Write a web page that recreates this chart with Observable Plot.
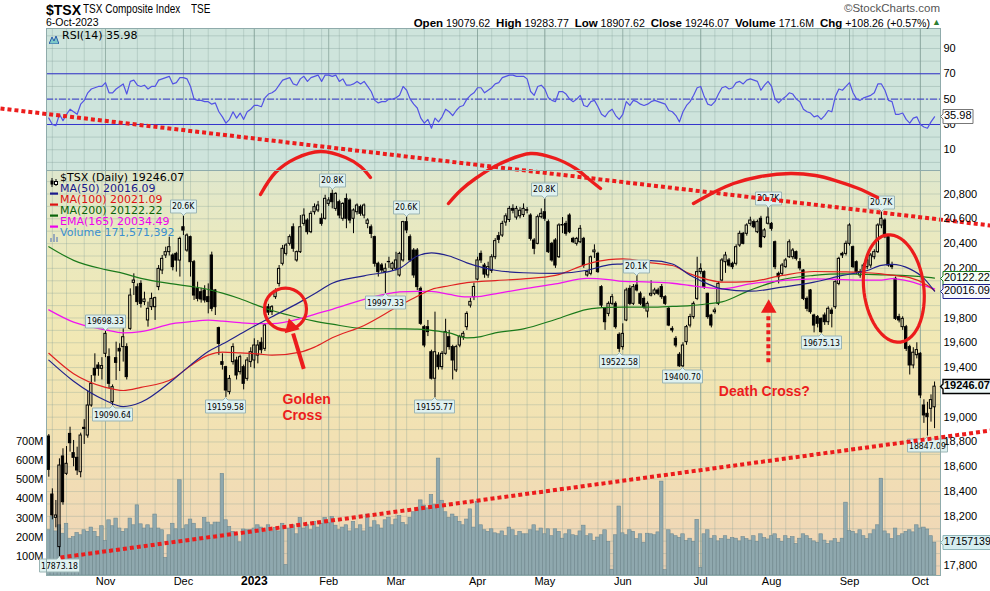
<!DOCTYPE html>
<html><head><meta charset="utf-8">
<script src="https://cdn.jsdelivr.net/npm/d3@7"></script>
<script src="https://cdn.jsdelivr.net/npm/@observablehq/plot@0.6"></script>
<style>
html,body{margin:0;padding:0;background:#fff;}
#chart{position:relative;width:990px;height:591px;overflow:hidden;font-family:"Liberation Sans",Arial,sans-serif;}
#chart svg{position:absolute;left:0;top:0;}
.bg{position:absolute;}
.t{position:absolute;white-space:nowrap;}
</style></head><body>
<div id="chart"></div>
<script>
// ---------------- DATA ----------------
// daily candles [open, high, low, close], trading-day index 0 = 7-Oct-2022 ... 250 = 6-Oct-2023
const ohlc = [
[18844,18860,18516,18575],[18376,18422,18172,18207],[18188,18328,18107,18207],[17952,18664,17873.18,18610],[18683,18745,18290,18314],
[18543,18763,18530,18624],[18865,18919,18718,18790],[18710,18812,18600,18672],[18672,18758,18530,18570],[18556,18871,18511,18852],
[18914,18980,18780,18905],[18852,19210,18830,19094],[19094,19336,19080,19269],[19390,19511,19282,19336],[19417,19440,19330,19390],
[19390,19480,19300,19412],[19511,19698.33,19480,19672],[19484,19551,19230,19269],[19121,19260,19090.64,19242],[19476,19605,19296,19438],
[19551,19592,19368,19530],[19565,19726,19444,19645],[19565,19592,19300,19323],[19712,20035,19700,19981],[20083,20156,19981,20102],
[20048,20075,19900,19928],[20075,20100,19880,19914],[19928,20008,19900,19949],[19780,19928,19726,19874],[19887,20000,19860,19954],
[19887,19968,19780,19960],[20049,20223,20020,20196],[20183,20304,20150,20277],[20304,20371,20280,20331],[20331,20452,20300,20371],
[20304,20317,20180,20210],[20317,20330,20170,20263],[20263,20452,20130,20438],[20532,20626,20465,20505],[20344,20478,20330,20465],
[20452,20460,20130,20250],[20250,20264,19941,19981],[20035,20089,19930,19954],[20008,20040,19920,19949],[20022,20060,19920,19941],
[19968,20075,19833,19928],[20304,20331,19850,19874],[20022,20030,19820,19887],[19718,19726,19498,19591],[19444,19511,19380,19422],
[19403,19410,19159.58,19215],[19202,19336,19180,19309],[19444,19592,19420,19565],[19457,19484,19300,19336],[19363,19500,19340,19484],
[19403,19420,19220,19269],[19309,19480,19290,19457],[19444,19560,19400,19524],[19457,19632,19390,19578],[19497,19618,19430,19578],
[19600,19640,19510,19540],[19551,19753,19530,19740],[19887,19910,19820,19843],[19847,19900,19820,19887],[19968,20035,19950,20008],
[20075,20223,20050,20196],[20237,20385,20220,20358],[20317,20400,20300,20385],[20398,20470,20380,20452],[20532,20559,20330,20358],
[20264,20340,20250,20331],[20331,20626,20320,20532],[20559,20680,20540,20626],[20586,20600,20470,20492],[20492,20660,20480,20640],
[20653,20720,20630,20694],[20667,20740,20650,20707],[20600,20640,20540,20559],[20600,20790,20590,20761],[20720,20770,20700,20748],
[20801,20833,20680,20734],[20680,20810,20660,20801],[20734,20750,20600,20626],[20600,20730,20580,20720],[20760,20800,20520,20600],
[20747,20760,20560,20586],[20600,20680,20480,20667],[20653,20720,20630,20707],[20694,20710,20620,20640],[20626,20720,20600,20707],
[20559,20600,20520,20586],[20532,20550,20440,20478],[20452,20460,20210,20237],[20237,20250,20130,20170],[20224,20240,20160,20183],
[20170,20237,19997.33,20197],[20250,20290,20200,20252],[20197,20250,20180,20237],[20197,20330,20180,20264],[20143,20330,20130,20317],
[20264,20580,20250,20573],[20573,20620,20480,20506],[20452,20470,20250,20264],[20344,20360,20120,20143],[20344,20360,20020,20049],
[20035,20050,19740,19753],[19726,19740,19560,19578],[19726,19780,19650,19686],[19524,19540,19300,19310],[19310,19847,19155.77,19524],
[19497,19520,19380,19404],[19404,19530,19380,19511],[19511,19790,19500,19686],[19645,19700,19540,19565],[19565,19580,19300,19457],
[19377,19580,19360,19565],[19578,19660,19560,19645],[19645,19690,19620,19672],[19726,19850,19700,19833],[19900,19960,19880,19930],
[19968,20080,19940,20050],[20110,20290,20100,20264],[20317,20340,20240,20264],[20223,20240,20120,20150],[20143,20250,20120,20210],
[20180,20310,20160,20290],[20290,20440,20270,20420],[20460,20490,20400,20430],[20465,20580,20450,20559],[20570,20640,20540,20620],
[20590,20700,20570,20680],[20680,20713,20640,20665],[20610,20700,20590,20680],[20620,20690,20600,20665],[20630,20720,20610,20680],
[20670,20690,20640,20665],[20626,20640,20420,20438],[20425,20440,20310,20358],[20398,20630,20390,20613],[20613,20680,20600,20640],
[20653,20761,20580,20600],[20573,20590,20320,20331],[20398,20410,20250,20264],[20425,20440,20200,20223],[20290,20560,20280,20546],
[20546,20610,20480,20550],[20559,20580,20460,20479],[20626,20640,20480,20492],[20438,20450,20400,20411],[20398,20450,20380,20438],
[20411,20545,20400,20519],[20438,20450,20200,20223],[20143,20180,20130,20170],[20156,20300,20140,20290],[20330,20390,20280,20344],
[20317,20330,20160,20170],[20049,20060,19880,19900],[19874,19880,19700,19766],[19833,19930,19810,19914],[19914,19990,19900,19968],
[19914,19930,19710,19726],[19664,19680,19522.58,19551],[19565,19753,19540,19672],[19780,20040,19770,20022],[20035,20060,19900,19914],
[19914,20070,19900,20049],[20062,20143,20010,20022],[19995,20010,19900,19914],[19954,19970,19870,19887],[19852,19930,19800,19914],
[19981,20100,19970,19995],[19995,20040,19980,20022],[20022,20040,19980,19995],[20049,20070,19950,19968],[19968,19980,19900,19914],
[19874,19890,19730,19739],[19712,19730,19680,19699],[19632,19650,19560,19578],[19503,19520,19402,19410],[19410,19600,19400.70,19578],
[19605,19740,19580,19726],[19739,19830,19720,19807],[19807,19930,19790,19914],[19954,20290,19940,20170],[20170,20237,20150,20196],
[20170,20180,20030,20049],[19995,20000,19790,19807],[19820,19830,19720,19739],[19847,19880,19830,19860],[19914,20090,19900,20075],
[20102,20280,20090,20264],[20250,20330,20160,20304],[20264,20280,20210,20223],[20237,20250,20190,20210],[20237,20390,20220,20371],
[20385,20500,20370,20479],[20479,20490,20390,20398],[20479,20560,20460,20546],[20559,20613,20540,20586],[20573,20590,20520,20532],
[20492,20590,20480,20573],[20600,20620,20360,20371],[20452,20520,20440,20506],[20560,20690,20550,20610],[20559,20570,20500,20519],
[20411,20420,20190,20210],[20156,20170,20075,20129],[20156,20240,20140,20223],[20210,20280,20200,20264],[20290,20430,20280,20411],
[20290,20360,20270,20344],[20331,20340,20260,20277],[20250,20280,20180,20200],[20183,20190,19940,19954],[19954,19970,19850,19874],
[20022,20030,19830,19847],[19820,19830,19680,19739],[19807,19820,19720,19753],[19793,19800,19675.13,19686],[19820,19840,19740,19766],
[19766,19890,19740,19874],[19860,19880,19720,19833],[19887,20100,19870,20089],[20075,20290,20060,20277],[20317,20330,20280,20304],
[20317,20420,20300,20398],[20398,20560,20380,20546],[20371,20380,20200,20210],[20250,20260,20150,20170],[20143,20190,20120,20170],
[20170,20240,20150,20223],[20210,20280,20190,20264],[20223,20320,20200,20304],[20290,20350,20270,20331],[20331,20560,20320,20546],
[20546,20660,20520,20600],[20586,20600,20440,20452],[20452,20460,20210,20223],[20223,20250,20190,20210],[20116,20130,19780,19793],
[19807,19830,19760,19780],[19726,19810,19700,19793],[19726,19740,19530,19551],[19565,19580,19340,19417],[19417,19560,19390,19520],
[19500,19600,19470,19541],[19511,19520,19150,19175],[19094,19140,18950,19014],[19027,19120,18847.09,19000],[19067,19180,18960,19137.81],
[19079.62,19283.77,18907.62,19246.07]
];
// daily volume, millions
const volumes = [
236,305,230,262,218,270,192,200,222,210, 236,228,250,228,200,257,180,288,257,297,
245,228,241,297,262,366,267,245,262,245, 318,245,236,92,210,270,241,497,241,262,
292,270,241,241,300,276,262,276,276,530, 288,253,228,205,173,240,236,236,245,262,
250,225,262,230,248,230,270,55,245,262, 215,300,245,262,236,280,250,268,300,272,
305,260,236,250,262,230,280,241,262,230, 318,250,283,262,245,288,300,262,292,310,
275,262,300,330,345,392,365,350,420,370, 610,390,330,300,318,305,280,262,292,345,
250,385,262,236,228,241,220,215,230,205, 250,236,205,228,215,215,236,262,230,245,
215,241,205,241,228,192,215,236,210,205, 230,260,205,215,180,198,210,236,175,30,
210,360,220,210,236,228,190,215,170,218, 215,210,225,490,28,236,215,205,196,215,
180,192,176,290,40,215,236,192,205,178, 190,205,187,195,192,178,200,190,182,205,
176,215,195,188,205,215,190,176,205,190, 200,165,192,215,205,190,178,170,215,182,
165,178,190,170,192,380,232,228,215,236, 205,190,215,236,262,505,230,215,190,245,
205,215,228,236,225,262,245,250,240,205,171.571392
];
// RSI(14)
const rsi = [
35,30,29,38,33,38,42,40,38,46, 49,55,58,59,60,60,63,55,55,58, 60,62,54,64,65,61,60,61,58,60,
60,65,66,67,68,62,63,67,67,66, 60,50,49,49,48,48,46,47,40,36, 31,34,40,35,39,34,40,42,45,45,
44,51,54,55,57,61,65,66,67,62, 61,66,68,64,67,68,69,64,69,69, 68,69,64,66,61,61,62,64,62,64,
60,56,49,47,48,48,50,50,51,53, 60,57,50,46,43,35,31,34,27,35, 32,36,42,40,37,41,44,45,50,53,
55,59,59,55,57,59,62,63,67,68, 69,69,68,68,68,66,56,53,60,61, 58,51,49,48,56,56,54,50,48,50,
53,45,44,48,49,44,38,36,40,42, 37,34,38,48,45,49,48,46,45,46, 48,49,48,47,46,41,40,37,32,40,
45,48,53,59,60,52,46,45,48,54, 59,60,58,59,63,64,62,65,66,65, 64,57,61,64,60,50,47,50,52,55,
54,50,48,42,40,39,36,37,34,37, 41,40,52,58,57,60,63,55,50,49, 51,52,53,55,62,62,57,49,48,38,
38,39,34,31,35,36,30,28,27,32,35.98
];
// moving averages, read at these trading-day indices
const maIdx  = [0,7,16,21,26,35,40,45,49,54,59,63,71,75,80,89,99,104,108,113,118,122,126,134,143,152,158,162,170,176,181,186,190,198,207,216,224,231,235,238,243,247,250];
const ma50   = [19460,19290,19135,19085,19120,19300,19420,19530,19590,19670,19750,19810,19930,19995,20080,20140,20200,20300,20325,20300,20245,20210,20185,20165,20160,20185,20228,20237,20262,20235,20145,20075,20035,20016,20049,20089,20143,20183,20225,20232,20196,20120,20016.09];
const ma100  = [19515,19350,19240,19215,19240,19310,19415,19500,19525,19518,19510,19500,19525,19565,19640,19740,19900,19975,20030,20060,20085,20095,20102,20115,20143,20235,20270,20277,20245,20223,20156,20110,20089,20094,20143,20175,20172,20165,20156,20145,20125,20080,20021.09];
const ma200  = [20375,20265,20190,20160,20120,20075,20055,20030,20000,19955,19900,19860,19800,19775,19750,19715,19712,19710,19700,19680,19640,19650,19680,19712,19788,19870,19885,19887,19887,19893,19900,19915,19930,20025,20110,20143,20155,20152,20148,20146,20140,20132,20122.22];
const ema165 = [19865,19766,19705,19680,19690,19755,19770,19782,19775,19762,19755,19755,19795,19830,19870,19950,20010,20015,20015,19990,19970,19975,19995,20035,20075,20120,20110,20095,20090,20080,20062,20045,20035,20075,20102,20116,20110,20105,20105,20118,20095,20060,20034.49];
// axis ticks / labels
const monthIdx = [16,38,58,79,98,121,140,162,184,204,226,246];
const monthLabels = ["Nov","Dec","2023","Feb","Mar","Apr","May","Jun","Jul","Aug","Sep","Oct"];
const weekIdx = [1,5,10,15,20,25,30,35,40,45,50,55,58,62,67,72,77,82,87,92,96,101,106,111,116,121,125,130,135,140,145,150,155,159,164,169,174,179,184,188,193,198,203,208,212,217,222,227,231,236,241,246];
const priceTicks = [17800,18000,18200,18400,18600,18800,19000,19200,19400,19600,19800,20000,20200,20400,20600,20800];
const volTicks = [100,200,300,400,500,600,700];
const rsiTicks = [10,30,50,70,90];
const rsiGrid = [0,10,20,30,40,50,60,70,80,90,100];
// price callouts: trading-day index and kind
const calloutIdx  = [3,16,18,38,50,80,95,101,109,140,161,166,179,203,218,235,248];
const calloutKind = ["low","high","low","highK","low","highK","low","highK","low","highK","low","highK","low","highK","low","highK","low"];
// hand-drawn annotations (trading-day index, price)
const upperTrend = [{i:-13.63, v:21489.6},{i:265.8, v:20545.9}];
const lowerTrend = [{i:3.3, v:17868},{i:265.8, v:18892}];
const arc1 = [[59.75,20795.9],[63.98,20973.4],[69.63,21086.3],[76.68,21142.7],[83.74,21094.4],[87.97,21021.8],[90.79,20933.0]];
const arc2 = [[112.81,20723.3],[116.2,20828.2],[120.43,20925.0],[127.49,21046.0],[135.96,21126.6],[143.01,21086.3],[148.66,21005.6],[152.89,20908.8],[155.71,20844.3]];
const arc3 = [[181.96,20723.3],[187.61,20812.1],[193.25,20884.6],[200.87,20941.1],[209.34,20965.3],[216.4,20949.2],[222.04,20908.8],[228.53,20844.3],[233.9,20771.7]];
const goldenCircle = {i:66.8, v:19872};
const crashEllipse = {i:238.5, v:20037.7, rx:30, ry:54, tilt:-7};
const goldenArrow = [{i:71.97, v:19390},{i:68.95, v:19675}];
const goldenHead = {i:68.4, v:19728, rot:-15};
const deathArrow = [{i:203.1, v:19443},{i:203.1, v:19838}];
const deathHead = {i:203.2, v:19878, rot:0};
const notes = [{i:65.96, v:19086, t:"Golden\nCross"},{i:189.1, v:19211, t:"Death Cross?"}];

// ---------------- LAYOUT ----------------
const W = 990, H = 591, LEFT = 46, RIGHT = 940;
const RSI_TOP = 28, RSI_BOTTOM = 170, PRICE_TOP = 170, PRICE_BOTTOM = 575;
const xDomain = [-0.65, 251.68];
const priceDomain = [17723, 20989.5];
const rsiDomain = [-6.4, 105.8];
const volDomain = [0, 2113];
const RED = "#ec1c1c";
const GRID = "#7f9c94";
const FRAME = "#8fabab";

function fontAvailable(name) {
  const ctx = document.createElement("canvas").getContext("2d");
  const s = "mmmmwwwwlli19698.33";
  return ["monospace", "serif"].some(fb => {
    ctx.font = `40px ${fb}`; const a = ctx.measureText(s).width;
    ctx.font = `40px "${name}", ${fb}`; return ctx.measureText(s).width !== a;
  });
}
const hasNarrow = fontAvailable("Liberation Sans Narrow");
const hasCond = fontAvailable("DejaVu Sans Condensed");
const NARROW = hasNarrow ? '"Liberation Sans Narrow"' : hasCond ? '"DejaVu Sans Condensed"' : '"Liberation Sans"';
const calloutSize = hasNarrow ? 10.5 : hasCond ? 8.6 : 8.8;
const SANS = '"Liberation Sans", Arial, sans-serif';
const VERD = '"DejaVu Sans", Verdana, sans-serif';

const candles = ohlc.map(([o, h, l, c], i) => ({i, o, h, l, c}));
const volRows = volumes.map((v, i) => ({i, v}));
const rsiRows = rsi.map((r, i) => ({i, r}));
const maRows = maIdx.map((i, k) => ({i, ma50: ma50[k], ma100: ma100[k], ma200: ma200[k], ema165: ema165[k]}));
const last = candles[candles.length - 1];
const prev = candles[candles.length - 2];

const pxPerIdx = (RIGHT - LEFT) / (xDomain[1] - xDomain[0]);
const pxPerPt = (PRICE_BOTTOM - PRICE_TOP) / (priceDomain[1] - priceDomain[0]);
const priceY = v => PRICE_TOP + (priceDomain[1] - v) * pxPerPt;
const volY = v => PRICE_BOTTOM - v * (PRICE_BOTTOM - PRICE_TOP) / volDomain[1];
// right-axis labels hidden by the value tags
const tagYs = [priceY(ma200[ma200.length - 1]), priceY(ma50[ma50.length - 1]), priceY(last.c), volY(volumes[volumes.length - 1])];
const shownPriceTicks = priceTicks.filter(t => tagYs.every(y => Math.abs(priceY(t) - y) > 8));

function opts(top, bottom, yDomain, marks) {
  return {
    width: W, height: H,
    marginLeft: LEFT, marginRight: W - RIGHT, marginTop: top, marginBottom: H - bottom,
    x: {type: "linear", domain: xDomain, axis: null, label: null},
    y: {type: "linear", domain: yDomain, axis: null, label: null},
    style: {background: "transparent", color: "#000", fontFamily: SANS, fontSize: "11px", overflow: "visible"},
    marks
  };
}
const hasTip = typeof Plot.tip === "function";
function tag(data, o) {
  const {title, anchor, fill, stroke, fontSize = 11, fontWeight = "normal", fontFamily = SANS, strokeWidth = 1, textPadding = 1, pointerSize = 5, ...rest} = o;
  if (hasTip) return Plot.tip(data, {title, anchor, fill, stroke, strokeWidth, fontSize, fontWeight, fontFamily, pointerSize, textPadding, pathFilter: "none", ...rest});
  const dy = anchor === "bottom" ? -10 : anchor === "top" ? 10 : 0;
  const dx = anchor === "left" ? 4 : 0;
  return Plot.text(data, {text: title, fontSize, fontWeight, fontFamily, dx, dy, textAnchor: anchor === "left" ? "start" : "middle", stroke: fill, strokeWidth: 3, fill: "#000", ...rest});
}
const chart = document.getElementById("chart");
function addPlot(o) { const el = Plot.plot(o); el.style.position = "absolute"; el.style.left = "0px"; el.style.top = "0px"; chart.appendChild(el); return el; }
function addDiv(cls, css, html) { const d = document.createElement("div"); d.className = cls; d.style.cssText = css; if (html != null) d.innerHTML = html; chart.appendChild(d); return d; }
const dotted = {strokeDasharray: "4,3", strokeLinecap: "butt", strokeLinejoin: "miter"};

// backgrounds
addDiv("bg", `left:${LEFT}px;top:${RSI_TOP}px;width:${RIGHT-LEFT}px;height:${RSI_BOTTOM-RSI_TOP}px;background:#cee4dc;`);
addDiv("bg", `left:${LEFT}px;top:${PRICE_TOP}px;width:${RIGHT-LEFT}px;height:${PRICE_BOTTOM-PRICE_TOP}px;background:linear-gradient(to bottom,#dfe7cd 0%,#e9e9c0 16%,#f1e8b4 42%,#f2e1b3 66%,#efd4b8 100%);`);

// RSI panel
addPlot(opts(RSI_TOP, RSI_BOTTOM, rsiDomain, [
  Plot.ruleY(rsiGrid, {y: d => d, stroke: GRID, strokeOpacity: 0.35}),
  Plot.ruleX(weekIdx, {x: d => d, stroke: GRID, strokeOpacity: 0.3}),
  Plot.ruleX(monthIdx, {x: d => d, stroke: GRID, strokeOpacity: 0.7}),
  Plot.ruleY([70, 30], {y: d => d, stroke: "#3535cc", strokeWidth: 1.1}),
  Plot.ruleY([50], {y: d => d, stroke: "#3535cc", strokeDasharray: "7,2,2,2"}),
  Plot.line(rsiRows, {x: "i", y: "r", stroke: "#5353e4", strokeWidth: 1.2}),
  Plot.frame({stroke: FRAME}),
  Plot.axisY(rsiTicks, {anchor: "right", tickSize: 0, tickPadding: 3, fontSize: 11, label: null}),
  tag([{i: xDomain[1], r: rsi[rsi.length - 1]}], {x: "i", y: "r", title: d => d.r.toFixed(2), anchor: "left", fill: "#ffffff", stroke: "#777"})
]));

// price grid (under volume)
addPlot(opts(PRICE_TOP, PRICE_BOTTOM, priceDomain, [
  Plot.ruleY(d3.range(17800, 21000, 100), {y: d => d, stroke: GRID, strokeOpacity: 0.3}),
  Plot.ruleX(weekIdx, {x: d => d, stroke: GRID, strokeOpacity: 0.3}),
  Plot.ruleX(monthIdx, {x: d => d, stroke: GRID, strokeOpacity: 0.7})
]));

// volume
addPlot(opts(PRICE_TOP, PRICE_BOTTOM, volDomain, [
  Plot.rect(volRows, {x1: d => d.i - 0.5, x2: d => d.i + 0.5, y1: () => 0, y2: "v", fill: "#8fa8ae", stroke: "#6f8990", strokeWidth: 0.6}),
  Plot.axisY(volTicks, {anchor: "left", tickSize: 0, tickPadding: 3, fontSize: 11, tickFormat: d => d + "M", label: null})
]));

// annotation geometry
const th = crashEllipse.tilt * Math.PI / 180;
const ellipsePts = d3.range(0, 361, 6).map(a => {
  const t = a * Math.PI / 180, px = crashEllipse.rx * Math.cos(t), py = crashEllipse.ry * Math.sin(t);
  const x2 = px * Math.cos(th) - py * Math.sin(th), y2 = px * Math.sin(th) + py * Math.cos(th);
  return {i: crashEllipse.i + x2 / pxPerIdx, v: crashEllipse.v - y2 / pxPerPt};
});
const arcRows = (a) => a.map(([i, v]) => ({i, v}));
const callouts = calloutIdx.map((i, k) => {
  const d = candles[i], kind = calloutKind[k];
  if (kind === "low") return {i, v: d.l, t: d.l.toFixed(2), a: "top"};
  if (kind === "high") return {i, v: d.h, t: d.h.toFixed(2), a: "bottom"};
  return {i, v: d.h, t: (d.h / 1000).toFixed(1) + "K", a: "bottom"};
});
const monthRows = monthIdx.map((i, k) => ({i, label: monthLabels[k]}));

// price panel
addPlot(opts(PRICE_TOP, PRICE_BOTTOM, priceDomain, [
  Plot.ruleX(candles, {x: "i", y1: "h", y2: d => Math.max(d.o, d.c), stroke: "#000", strokeWidth: 1}),
  Plot.ruleX(candles, {x: "i", y1: d => Math.min(d.o, d.c), y2: "l", stroke: "#000", strokeWidth: 1}),
  Plot.rect(candles, {filter: d => d.c < d.o, x1: d => d.i - 0.32, x2: d => d.i + 0.32, y1: "o", y2: "c", fill: "#000", stroke: "#000", strokeWidth: 1}),
  Plot.rect(candles, {filter: d => d.c >= d.o, x1: d => d.i - 0.32, x2: d => d.i + 0.32, y1: "o", y2: "c", fill: "none", stroke: "#000", strokeWidth: 1}),
  Plot.line(maRows, {x: "i", y: "ma200", stroke: "#1b7a1b", strokeWidth: 1.2, curve: "monotone-x"}),
  Plot.line(maRows, {x: "i", y: "ema165", stroke: "#f014f0", strokeWidth: 1.3, curve: "monotone-x"}),
  Plot.line(maRows, {x: "i", y: "ma100", stroke: "#e02222", strokeWidth: 1.2, curve: "monotone-x"}),
  Plot.line(maRows, {x: "i", y: "ma50", stroke: "#22228c", strokeWidth: 1.2, curve: "monotone-x"}),
  tag(callouts.filter(d => d.a === "bottom"), {x: "i", y: "v", title: "t", anchor: "bottom", fill: "#dff1f0", stroke: "#9bb5b5", fontFamily: NARROW, fontSize: calloutSize, textPadding: 1.5, pointerSize: 5}),
  tag(callouts.filter(d => d.a === "top"), {x: "i", y: "v", title: "t", anchor: "top", fill: "#dff1f0", stroke: "#9bb5b5", fontFamily: NARROW, fontSize: calloutSize, textPadding: 1.5, pointerSize: 5}),
  // annotations
  Plot.line(arcRows(arc1), {x: "i", y: "v", stroke: RED, strokeWidth: 3.4, curve: "catmull-rom"}),
  Plot.line(arcRows(arc2), {x: "i", y: "v", stroke: RED, strokeWidth: 3.4, curve: "catmull-rom"}),
  Plot.line(arcRows(arc3), {x: "i", y: "v", stroke: RED, strokeWidth: 3.4, curve: "catmull-rom"}),
  Plot.dot([goldenCircle], {x: "i", y: "v", r: 21, stroke: RED, strokeWidth: 3.2, fill: "none"}),
  Plot.line(ellipsePts, {x: "i", y: "v", stroke: RED, strokeWidth: 3.2}),
  Plot.link([0], {x1: () => goldenArrow[0].i, y1: () => goldenArrow[0].v, x2: () => goldenArrow[1].i, y2: () => goldenArrow[1].v, stroke: RED, strokeWidth: 4}),
  Plot.dot([goldenHead], {x: "i", y: "v", symbol: "triangle", r: 4.8, rotate: "rot", fill: RED, stroke: RED}),
  Plot.link([0], {x1: () => deathArrow[0].i, y1: () => deathArrow[0].v, x2: () => deathArrow[1].i, y2: () => deathArrow[1].v, stroke: RED, strokeWidth: 4, ...dotted}),
  Plot.dot([deathHead], {x: "i", y: "v", symbol: "triangle", r: 4.8, rotate: "rot", fill: RED, stroke: RED}),
  Plot.text(notes, {x: "i", y: "v", text: "t", textAnchor: "start", fill: RED, fontWeight: "bold", fontSize: 14, lineHeight: 1.15, fontFamily: SANS}),
  Plot.line(upperTrend, {x: "i", y: "v", stroke: RED, strokeWidth: 4, ...dotted}),
  Plot.line(lowerTrend, {x: "i", y: "v", stroke: RED, strokeWidth: 4, ...dotted}),
  // axes & frame
  Plot.frame({stroke: FRAME}),
  Plot.axisY(shownPriceTicks, {anchor: "right", tickSize: 0, tickPadding: 3, fontSize: 11, label: null}),
  Plot.text(monthRows, {filter: d => !/^\d{4}$/.test(d.label), x: "i", frameAnchor: "bottom", dy: 9, text: "label", fontSize: 11}),
  Plot.text(monthRows, {filter: d => /^\d{4}$/.test(d.label), x: "i", frameAnchor: "bottom", dy: 9, text: "label", fontSize: 12, fontWeight: "bold"}),
  // value tags
  tag([{i: xDomain[1], v: ma200[ma200.length - 1]}], {x: "i", y: "v", title: d => d.v.toFixed(2), anchor: "left", fill: "#f6fff6", stroke: "#1b7a1b"}),
  tag([{i: xDomain[1], v: ma50[ma50.length - 1]}], {x: "i", y: "v", title: d => d.v.toFixed(2), anchor: "left", fill: "#f6f8ff", stroke: "#22228c"}),
  tag([{i: xDomain[1], v: last.c}], {x: "i", y: "v", title: d => d.v.toFixed(2), anchor: "left", fill: "#eef8f8", stroke: "#000", strokeWidth: 1.4, fontWeight: "bold"})
]));

// volume tag on top
addPlot(opts(PRICE_TOP, PRICE_BOTTOM, volDomain, [
  tag([{i: xDomain[1], v: volumes[volumes.length - 1]}], {x: "i", y: "v", title: d => String(Math.round(d.v * 1e6)), anchor: "left", fill: "#d6eef0", stroke: "#8fb5b8", fontSize: 10.5})
]));

// ---------------- TEXT: header & legends ----------------
const fmt2 = d3.format(".2f");
const chg = last.c - prev.c;
const tsxFont = hasNarrow ? `bold 16px ${NARROW}` : `bold 14px ${SANS}`;
const squeeze = hasNarrow ? "" : "transform:scaleX(0.8);transform-origin:0 0;";
addDiv("t", `left:46px;top:1.5px;font:${tsxFont};line-height:16px;color:#000;`, "$TSX");
addDiv("t", `left:83px;top:3px;font:12.5px ${hasNarrow ? NARROW : SANS};line-height:12.5px;color:#000;${squeeze}`, "TSX Composite Index");
addDiv("t", `left:191px;top:3px;font:12.5px ${hasNarrow ? NARROW : SANS};line-height:12.5px;color:#000;${squeeze}`, "TSE");
addDiv("t", `left:46px;top:17px;font:10.5px ${SANS};line-height:10.5px;color:#000;`, "6-Oct-2023");
addDiv("t", `right:${W-940}px;top:2.5px;font:11.5px ${SANS};line-height:11.5px;color:#555;`, "&#169;StockCharts.com");
const lab = (s) => `<b style="font-size:11.5px">${s}</b>`;
addDiv("t", `right:${W-930}px;top:16.5px;font:10.6px ${SANS};line-height:12px;color:#000;`,
  `${lab("Open")} ${fmt2(last.o)}&nbsp; ${lab("High")} ${fmt2(last.h)}&nbsp; ${lab("Low")} ${fmt2(last.l)}&nbsp; ${lab("Close")} ${fmt2(last.c)}&nbsp; ${lab("Volume")} ${volumes[volumes.length-1].toFixed(1)}M&nbsp; ${lab("Chg")} ${chg >= 0 ? "+" : ""}${fmt2(chg)} (${chg >= 0 ? "+" : ""}${fmt2(chg / prev.c * 100)}%)`);
addDiv("t", `left:932px;top:18px;font:9px ${SANS};line-height:9px;color:#2e7d32;`, "&#9650;");

// RSI legend
addDiv("t", `left:49px;top:30px;width:10px;height:9px;`, `<svg width="10" height="9" style="position:static"><path d="M0,9 L3,2 L5,6 L7,1 L10,9 Z" fill="#7cc8c8" stroke="#2a5aa8" stroke-width="1"/></svg>`);
addDiv("t", `left:62px;top:29.5px;font:11px ${VERD};line-height:11px;color:#000;`, `RSI(14) ${fmt2(rsi[rsi.length-1])}`);

// price legend
const legendRows = [
  {text: `$TSX (Daily) ${fmt2(last.c)}`, color: "#000", icon: "candle"},
  {text: `MA(50) ${fmt2(ma50[ma50.length-1])}`, color: "#1a1a8c", icon: "#1a1a8c"},
  {text: `MA(100) ${fmt2(ma100[ma100.length-1])}`, color: "#dd1111", icon: "#dd1111"},
  {text: `MA(200) ${fmt2(ma200[ma200.length-1])}`, color: "#0a640a", icon: "#0a640a"},
  {text: `EMA(165) ${fmt2(ema165[ema165.length-1])}`, color: "#ee00ee", icon: "#ee00ee"},
  {text: `Volume ${d3.format(",")(Math.round(volumes[volumes.length-1] * 1e6))}`, color: "#3b8fcf", icon: "vol"}
];
legendRows.forEach((r, k) => {
  const cy = 177.5 + k * 11;
  let icon;
  if (r.icon === "candle") icon = `<svg width="9" height="9" style="position:static"><path d="M2,0V9M6,1V8" stroke="#000"/><rect x="0.5" y="2.5" width="3" height="4" fill="#000"/><rect x="4.5" y="3.5" width="3" height="3" fill="#fff" stroke="#000"/></svg>`;
  else if (r.icon === "vol") icon = `<svg width="9" height="9" style="position:static"><rect x="0" y="5" width="2" height="4" fill="#9ab"/><rect x="3" y="1" width="2" height="8" fill="#9ab"/><rect x="6" y="4" width="2" height="5" fill="#9ab"/></svg>`;
  else icon = `<svg width="9" height="9" style="position:static"><rect x="0" y="3.5" width="8" height="2.2" fill="${r.icon}"/></svg>`;
  addDiv("t", `left:50px;top:${cy - 4.5}px;width:9px;height:9px;`, icon);
  addDiv("t", `left:60px;top:${cy - 5.5}px;font:11px ${VERD};line-height:11px;color:${r.color};`, r.text);
});
</script></body></html>
